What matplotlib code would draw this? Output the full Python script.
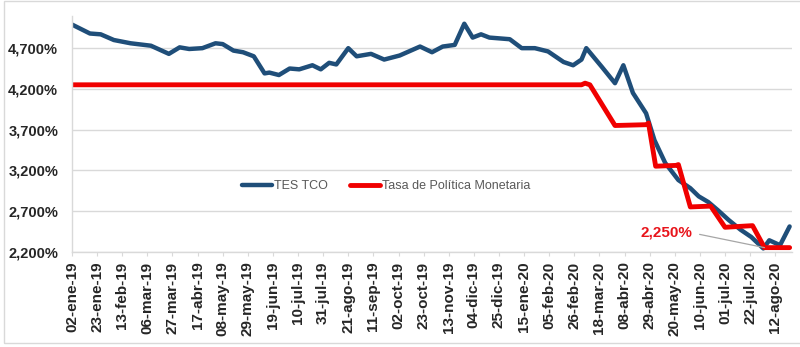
import pandas as pd
import matplotlib
matplotlib.use("Agg")
import matplotlib.pyplot as plt
from matplotlib.patches import Rectangle
from matplotlib.ticker import FuncFormatter

# TES TCO yield (%)
tes_dates = ["2019-01-02", "2019-01-17", "2019-01-26", "2019-02-06", "2019-02-20",
             "2019-03-09", "2019-03-24", "2019-04-02", "2019-04-10", "2019-04-21",
             "2019-05-02", "2019-05-08", "2019-05-17", "2019-05-25", "2019-06-03",
             "2019-06-12", "2019-06-16", "2019-06-24", "2019-07-03", "2019-07-11",
             "2019-07-22", "2019-07-29", "2019-08-05", "2019-08-11", "2019-08-21",
             "2019-08-28", "2019-09-09", "2019-09-20", "2019-10-03", "2019-10-20",
             "2019-10-30", "2019-11-08", "2019-11-18", "2019-11-26", "2019-12-03",
             "2019-12-10", "2019-12-17", "2020-01-03", "2020-01-13", "2020-01-24",
             "2020-02-04", "2020-02-17", "2020-02-25", "2020-03-03", "2020-03-07",
             "2020-03-20", "2020-03-31", "2020-04-07", "2020-04-15", "2020-04-26",
             "2020-05-03", "2020-05-12", "2020-05-23", "2020-06-02", "2020-06-09",
             "2020-06-17", "2020-06-25", "2020-07-04", "2020-07-14", "2020-07-23",
             "2020-08-02", "2020-08-07", "2020-08-16", "2020-08-24"]
tes_vals = [4.99, 4.88, 4.87, 4.80, 4.76,
            4.73, 4.63, 4.71, 4.69, 4.70,
            4.76, 4.75, 4.67, 4.65, 4.60,
            4.39, 4.40, 4.37, 4.45, 4.44,
            4.49, 4.44, 4.52, 4.50, 4.70,
            4.60, 4.63, 4.56, 4.61, 4.72,
            4.65, 4.72, 4.74, 5.00, 4.83,
            4.87, 4.83, 4.81, 4.70, 4.70,
            4.66, 4.53, 4.49, 4.56, 4.70,
            4.47, 4.27, 4.49, 4.15, 3.90,
            3.57, 3.29, 3.08, 2.98, 2.88,
            2.81, 2.71, 2.59, 2.47, 2.38,
            2.24, 2.34, 2.28, 2.51]

# policy rate (%)
tpm_dates = ["2019-01-02", "2020-03-03", "2020-03-06", "2020-03-10", "2020-03-31",
             "2020-04-26", "2020-04-28", "2020-05-04", "2020-05-21", "2020-05-23",
             "2020-06-02", "2020-06-19", "2020-07-01", "2020-07-24", "2020-08-03",
             "2020-08-24"]
tpm_vals = [4.25, 4.25, 4.27, 4.25, 3.75,
            3.76, 3.78, 3.25, 3.26, 3.27,
            2.75, 2.76, 2.50, 2.52, 2.25,
            2.25]

meses = ["ene", "feb", "mar", "abr", "may", "jun", "jul", "ago", "sep", "oct", "nov", "dic"]
yticks = [2.2, 2.7, 3.2, 3.7, 4.2, 4.7]

tes = pd.Series(tes_vals, index=pd.to_datetime(tes_dates))
tpm = pd.Series(tpm_vals, index=pd.to_datetime(tpm_dates))
xticks = pd.date_range("2019-01-02", "2020-08-12", freq="21D")

plt.rcParams["font.family"] = ["Liberation Sans", "DejaVu Sans"]

fig = plt.figure(figsize=(8, 3.47), dpi=100)
ax = fig.add_axes([72 / 800, 95.3 / 347, 720 / 800, 236.1 / 347])

# outer chart frame
fig.patches.append(Rectangle((3.5 / 800, 4 / 347), 1.0, 342 / 347, transform=fig.transFigure,
                             fill=False, edgecolor="#d9d9d9", lw=1.0))

ax.plot(tes.index, tes.values, color="#1f4e79", lw=3.2, label="TES TCO",
        solid_joinstyle="round", solid_capstyle="round")
ax.plot(tpm.index, tpm.values, color="#f00000", lw=3.5, label="Tasa de Política Monetaria",
        solid_joinstyle="round", solid_capstyle="round")

ultimo = tpm.values[-1]
ax.annotate(f"{ultimo:.3f}".replace(".", ",") + "%", xy=(tpm.index[-2], ultimo),
            xytext=(pd.Timestamp("2020-06-04"), 2.43), ha="right", va="center",
            color="#e8141b", fontsize=11, fontweight="bold",
            arrowprops=dict(arrowstyle="-", color="#a6a6a6", lw=0.9, relpos=(1, 0.5),
                            shrinkA=3, shrinkB=0))

ax.set_xlim(pd.Timestamp("2019-01-02"), pd.Timestamp("2020-08-26"))
ax.set_ylim(2.2, 5.1)
ax.set_yticks(yticks)
ax.yaxis.set_major_formatter(FuncFormatter(lambda v, p: f"{v:.3f}".replace(".", ",") + "%"))
ax.set_xticks(xticks)
ax.set_xticklabels([f"{d.day:02d}-{meses[d.month - 1]}-{d.strftime('%y')}" for d in xticks],
                   rotation=90)

ax.grid(axis="y", color="#d9d9d9", lw=1.0)
ax.set_axisbelow(True)
for s in ["top", "right"]:
    ax.spines[s].set_visible(False)
for s in ["left", "bottom"]:
    ax.spines[s].set_color("#d9d9d9")
    ax.spines[s].set_linewidth(1.0)

ax.tick_params(axis="y", length=0, pad=10, labelsize=10.5, labelcolor="#262626")
ax.tick_params(axis="x", length=3, color="#d9d9d9", pad=4, labelsize=11, labelcolor="#262626")
for lab in ax.get_xticklabels() + ax.get_yticklabels():
    lab.set_fontweight("bold")

ax.legend(loc="center", bbox_to_anchor=(0.436, 0.277), ncol=2, frameon=False,
          fontsize=9, labelcolor="#595959", handlelength=2.4, handletextpad=0.15,
          columnspacing=1.8)

fig.savefig("out.png", dpi=100)
